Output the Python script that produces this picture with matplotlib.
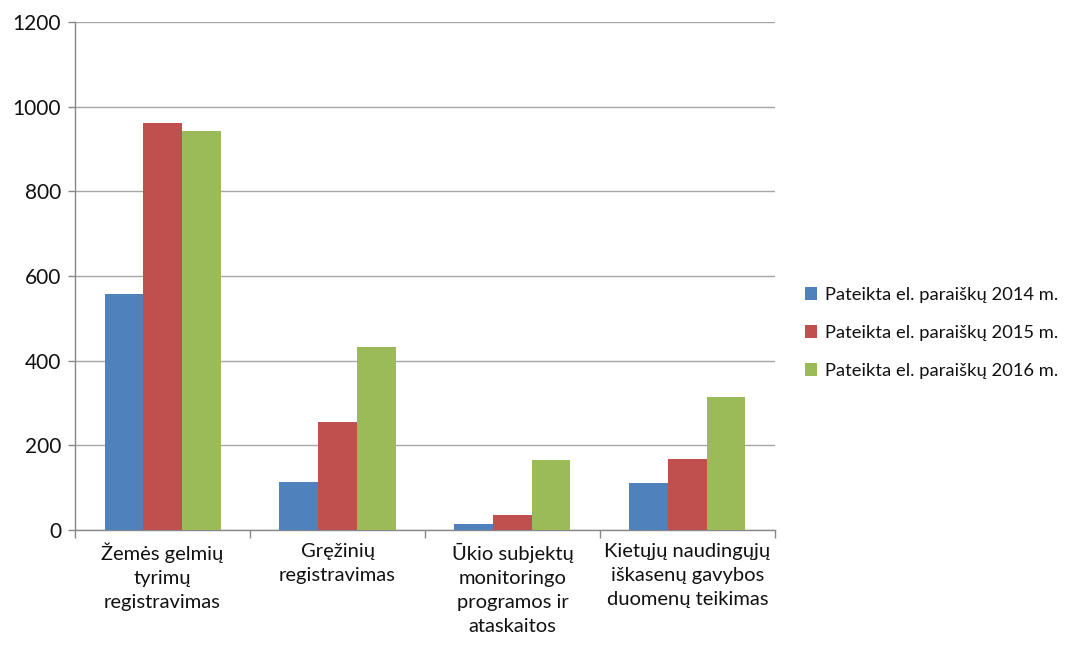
import numpy as np
import matplotlib.pyplot as plt

plt.rcParams['font.family'] = ['Lato', 'DejaVu Sans']

categories = ['Žemės gelmių\ntyrimų\nregistravimas',
              'Gręžinių\nregistravimas',
              'Ūkio subjektų\nmonitoringo\nprogramos ir\nataskaitos',
              'Kietųjų naudingųjų\niškasenų gavybos\nduomenų teikimas']
series_names = ['Pateikta el. paraiškų 2014 m.',
                'Pateikta el. paraiškų 2015 m.',
                'Pateikta el. paraiškų 2016 m.']
vals_2014 = [558, 113, 15, 111]
vals_2015 = [962, 255, 36, 169]
vals_2016 = [943, 433, 165, 314]
colors = ['#4F81BD', '#C0504D', '#9BBB59']

fig = plt.figure(figsize=(10.81, 6.45), dpi=100)
ax = fig.add_axes([0.0694, 0.178, 0.6475, 0.788])

x = np.arange(len(categories))
w = 0.221
for i, (vals, name, c) in enumerate(zip([vals_2014, vals_2015, vals_2016], series_names, colors)):
    ax.bar(x + (i - 1) * w, vals, width=w, color=c, label=name, zorder=3)

ax.set_xlim(-0.5, len(categories) - 0.5)
ax.set_ylim(0, 1200)
ax.set_yticks(range(0, 1201, 200))
ax.yaxis.grid(True, color='#A6A6A6', linewidth=1.0, zorder=0)
ax.set_xticks(x)
ax.set_xticklabels(categories, fontsize=14.5, linespacing=1.5, color='#111111')
ax.set_xticks(np.arange(-0.5, len(categories)), minor=True)
ax.tick_params(axis='x', which='major', length=0, pad=9)
ax.tick_params(axis='x', which='minor', length=6, color='#888888', width=1)
ax.tick_params(axis='y', length=5, color='#888888', width=1, labelsize=15, pad=5,
               labelcolor='#111111')

for s in ['top', 'right']:
    ax.spines[s].set_visible(False)
for s in ['left', 'bottom']:
    ax.spines[s].set_color('#888888')
    ax.spines[s].set_linewidth(1)

leg = ax.legend(loc='center left', bbox_to_anchor=(1.02, 0.388), frameon=False,
                fontsize=13.2, handlelength=0.65, handleheight=0.65, handletextpad=0.4,
                labelspacing=1.2)
for t in leg.get_texts():
    t.set_color('#111111')

fig.savefig('out.png', dpi=100)
